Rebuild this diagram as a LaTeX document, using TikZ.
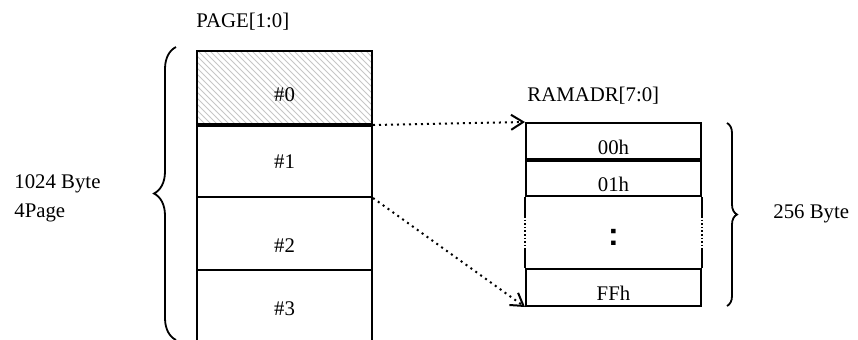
\documentclass[tikz,border=0pt]{standalone}
\usepackage{fontspec}
\setmainfont{Liberation Serif}
\setsansfont{Liberation Sans}
\usetikzlibrary{arrows.meta,patterns,decorations.pathreplacing}

\begin{document}
\begin{tikzpicture}[x=0.5pt, y=-0.5pt, font=\fontsize{10.4}{12}\selectfont,
		cell/.style={draw, line width=1pt, minimum width=87.5pt, inner sep=0pt},
		link/.style={dotted, line width=1pt, -{Straight Barb[length=6pt, width=7.5pt, line width=1pt]}},
		brace/.style={decorate, decoration={brace, amplitude=#1}, line width=0.9pt}]
	\useasboundingbox (0,0) rectangle (858,339);
	% page stack
	\node[cell, minimum height=36.5pt, pattern=north west lines, pattern color=gray!45] (p0) at (284.5,87.5) {};
	\node[cell, minimum height=36.5pt] (p1) at (284.5,160.5) {};
	\node[cell, minimum height=36.5pt] (p2) at (284.5,233.5) {};
	\node[minimum width=87.5pt, minimum height=36.5pt, inner sep=0pt] (p3) at (284.5,306.5) {};
	\draw[line width=1pt] (p3.south west) -- (p3.north west) -- (p3.north east) -- (p3.south east);
	\draw[line width=1.6pt] (p0.south west) -- (p0.south east);
	\node (t0) at (284.5,95) {\#0};
	\node (t1) at (284.5,162) {\#1};
	\node (t2) at (284.5,246) {\#2};
	\node (t3) at (284.5,309) {\#3};
	\node[anchor=west, inner sep=0pt] (page) at (196,22) {PAGE[1:0]};
	% ram stack
	\node[cell, minimum height=18pt] (r0) at (613.5,141) {};
	\node[cell, minimum height=18.5pt] (r1) at (613.5,177.5) {};
	\node[cell, minimum height=18.5pt] (r3) at (613.5,287.5) {};
	\draw[line width=1.6pt] (r0.south west) -- (r0.south east);
	\foreach \s in {west,east} {
		\draw[line width=1pt] (r1.south \s) -- +(0,19);
		\draw[line width=0.8pt, densely dotted] ([yshift=-9.5pt]r1.south \s) -- ([yshift=9.5pt]r3.north \s);
		\draw[line width=1pt] (r3.north \s) -- +(0,-19);
	}
	\node (s0) at (613.5,147) {00h};
	\node (s1) at (613.5,184) {01h};
	\node[font=\fontsize{16}{18}\sffamily\bfseries] (dots) at (613.5,237) {:};
	\node (s3) at (613.5,293) {FFh};
	\node[anchor=west, inner sep=0pt] (ramadr) at (527,96) {RAMADR[7:0]};
	% links
	\draw[link] (p0.south east) -- (r0.north west);
	\draw[link] (p1.south east) -- (r3.south west);
	% braces
	\draw[brace=11pt] (176,340) -- (176,47);
	\draw[brace=5pt] (727,123) -- (727,306);
	\node[anchor=west, inner sep=0pt] (size) at (14,184) {1024 Byte};
	\node[anchor=west, inner sep=0pt] (pages) at (14,213) {4Page};
	\node[anchor=west, inner sep=0pt] (ramsize) at (773,214) {256 Byte};
\end{tikzpicture}
\end{document}
